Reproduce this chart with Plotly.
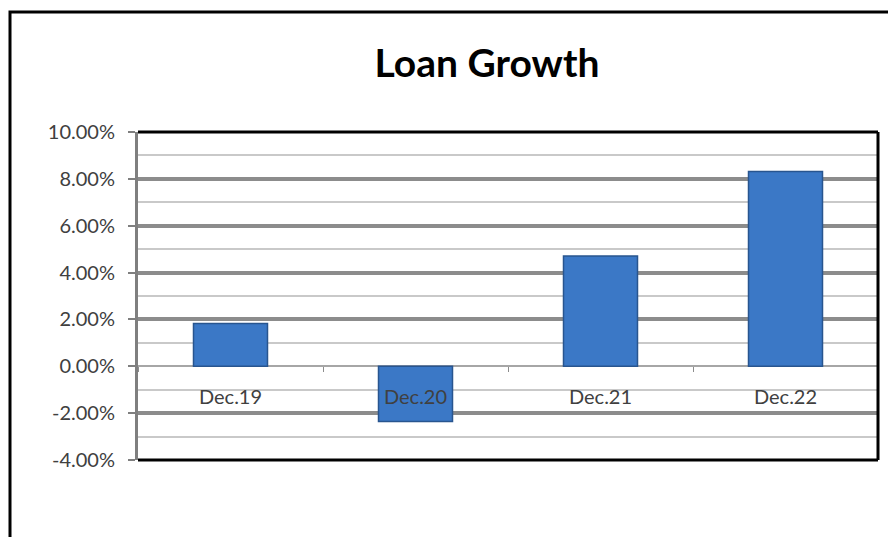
import plotly.graph_objects as go

periods = ['Dec.19', 'Dec.20', 'Dec.21', 'Dec.22']
loan_growth = [0.0183, -0.0236, 0.0471, 0.0831]

y_ticks = [-0.04, -0.02, 0.0, 0.02, 0.04, 0.06, 0.08, 0.10]
y_tick_labels = ['-4.00%', '-2.00%', '0.00%', '2.00%', '4.00%', '6.00%', '8.00%', '10.00%']

y_min, y_max = y_ticks[0], y_ticks[-1]

# the page body adds an 8px offset, so geometry is measured from (8, 8)
ml, mt, mr, mb = 130, 124, 26, 85
plot_w = 896 - ml - mr
plot_h = 537 - mt - mb

fig = go.Figure()

fig.add_trace(
    go.Bar(
        x=periods,
        y=loan_growth,
        width=0.4,
        marker=dict(color='#3b78c6', line=dict(color='#28558f', width=1.5)),
        hoverinfo='skip'
    )
)

fig.update_layout(
    width=896,
    height=537,
    margin=dict(l=ml, r=mr, t=mt, b=mb),
    paper_bgcolor='white',
    plot_bgcolor='white',
    showlegend=False,
    font=dict(family='Lato', size=20, color='#404040'),
    title=dict(
        text='<b>Loan Growth</b>',
        font=dict(family='Lato', size=39, color='black'),
        x=479 / 896, xref='container', xanchor='center',
        y=1 - 55 / 537, yref='container', yanchor='middle'
    ),
    xaxis=dict(
        anchor='free',
        position=(0 - y_min) / (y_max - y_min),
        showgrid=False,
        showline=False,
        ticks='outside',
        tickson='boundaries',
        ticklen=5,
        tickcolor='#8c8c8c',
        tickwidth=1,
        ticklabelstandoff=17,
        tickfont=dict(size=20, color='#404040'),
    ),
    yaxis=dict(
        range=[y_min, y_max],
        tickmode='array',
        tickvals=y_ticks,
        ticktext=y_tick_labels,
        showgrid=True,
        gridcolor='#8c8c8c',
        gridwidth=4,
        minor=dict(dtick=0.01, tick0=0, showgrid=True, gridcolor='#c9c9c9', gridwidth=2),
        zeroline=True,
        zerolinecolor='#a6a6a6',
        zerolinewidth=2,
        showline=True,
        linecolor='#7f7f7f',
        linewidth=3,
        ticks='outside',
        ticklen=7,
        tickcolor='#7f7f7f',
        tickwidth=2,
        ticklabelstandoff=9,
        tickfont=dict(size=20, color='#404040'),
    ),
)

# plot area border: black on top, right and bottom
for x0, y0, x1, y1 in [(0, 1, 1, 1), (1, 0, 1, 1), (0, 0, 1, 0)]:
    fig.add_shape(type='line', xref='paper', yref='paper',
                  x0=x0, y0=y0, x1=x1, y1=y1,
                  line=dict(color='black', width=3), layer='above')

# outer chart frame (right and bottom edges run off the picture)
fig.add_shape(type='rect', xref='paper', yref='paper',
              x0=-(ml - 2) / plot_w, x1=1.5,
              y0=-1.0, y1=1 + (mt - 4) / plot_h,
              line=dict(color='black', width=3), layer='above')

fig.write_html('out.html')
